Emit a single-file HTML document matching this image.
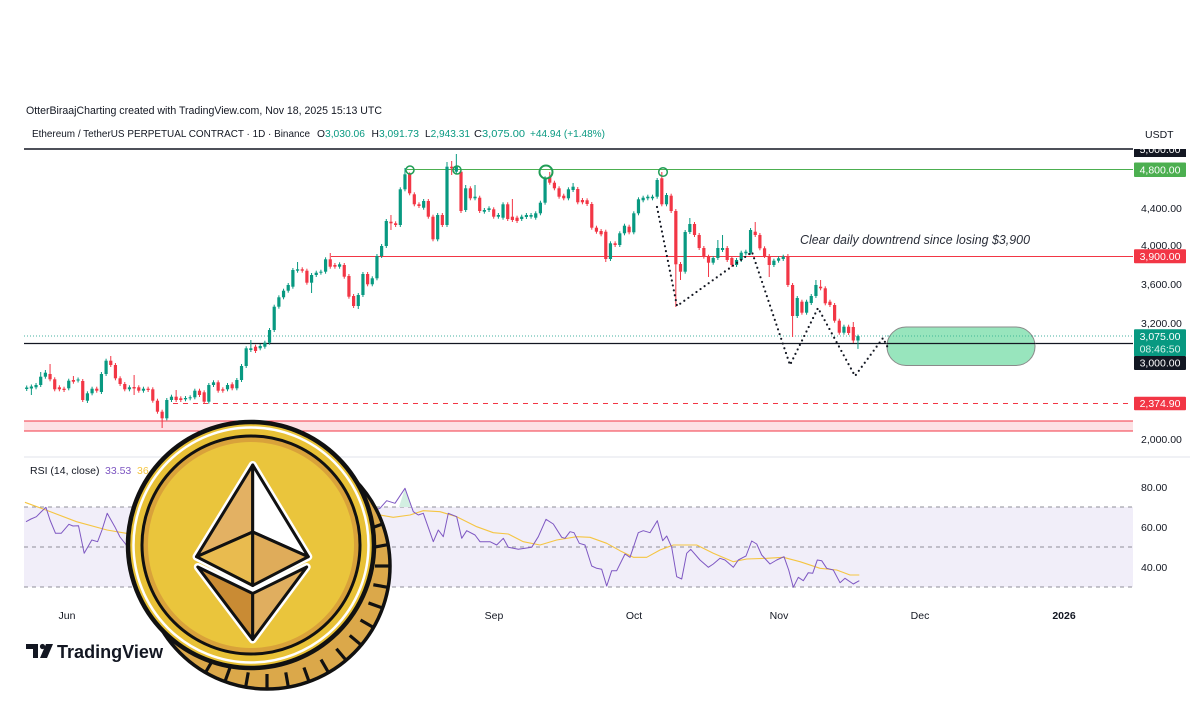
<!DOCTYPE html>
<html><head><meta charset="utf-8">
<style>
html,body{margin:0;padding:0;background:#fff;}
svg{display:block;font-family:"Liberation Sans",sans-serif;}
</style></head>
<body>
<svg id="s" width="1200" height="720" viewBox="0 0 1200 720" xmlns="http://www.w3.org/2000/svg">
<defs>
<clipPath id="mainclip"><rect x="24" y="149" width="1109" height="300"/></clipPath>
<clipPath id="rsiclip"><rect x="24" y="458" width="1109" height="142"/></clipPath>
<clipPath id="topclip"><rect x="1130" y="149" width="70" height="12"/></clipPath>
</defs>
<rect width="1200" height="720" fill="#fff"/>

<!-- header -->
<text x="26" y="114" font-size="11" fill="#131722" textLength="356" lengthAdjust="spacingAndGlyphs">OtterBiraajCharting created with TradingView.com, Nov 18, 2025 15:13 UTC</text>
<text x="32" y="137" font-size="10.5" fill="#131722" textLength="278" lengthAdjust="spacingAndGlyphs">Ethereum / TetherUS PERPETUAL CONTRACT · 1D · Binance</text>
<text x="317" y="137" font-size="10.5" fill="#131722" textLength="48" lengthAdjust="spacingAndGlyphs">O<tspan fill="#089981">3,030.06</tspan></text>
<text x="371.5" y="137" font-size="10.5" fill="#131722" textLength="47.5" lengthAdjust="spacingAndGlyphs">H<tspan fill="#089981">3,091.73</tspan></text>
<text x="425" y="137" font-size="10.5" fill="#131722" textLength="45" lengthAdjust="spacingAndGlyphs">L<tspan fill="#089981">2,943.31</tspan></text>
<text x="474" y="137" font-size="10.5" fill="#131722" textLength="51" lengthAdjust="spacingAndGlyphs">C<tspan fill="#089981">3,075.00</tspan></text>
<text x="530" y="137" font-size="10.5" fill="#089981" textLength="75" lengthAdjust="spacingAndGlyphs">+44.94 (+1.48%)</text>
<text x="1145" y="138" font-size="10.5" fill="#131722">USDT</text>

<!-- main pane horizontal objects -->
<rect x="24" y="421" width="1109" height="10" fill="#fde1e4"/>
<line x1="24" y1="421" x2="1133" y2="421" stroke="#f23645" stroke-width="1"/>
<line x1="24" y1="431" x2="1133" y2="431" stroke="#f23645" stroke-width="1"/>
<line x1="173" y1="403.5" x2="1133" y2="403.5" stroke="#f23645" stroke-width="1" stroke-dasharray="5 5"/>
<line x1="24" y1="149" x2="1133" y2="149" stroke="#131722" stroke-width="1.5"/>
<line x1="407" y1="169.5" x2="1133" y2="169.5" stroke="#4caf50" stroke-width="1"/>
<line x1="331" y1="256.5" x2="1133" y2="256.5" stroke="#f23645" stroke-width="1"/>
<line x1="24" y1="336" x2="1133" y2="336" stroke="#089981" stroke-width="1" stroke-dasharray="1 2" opacity="0.75"/>
<line x1="24" y1="343.5" x2="1133" y2="343.5" stroke="#131722" stroke-width="1.2"/>

<rect x="887" y="327" width="148" height="38.5" rx="19" ry="19" fill="#98e5bd" stroke="#8a8a8a" stroke-width="1"/>
<line x1="887" y1="336" x2="1035" y2="336" stroke="#089981" stroke-width="1" stroke-dasharray="1 2" opacity="0.6"/>
<line x1="887" y1="343.5" x2="1035" y2="343.5" stroke="#131722" stroke-width="1.2"/>

<g id="cd" clip-path="url(#mainclip)"></g>

<!-- circles -->
<g fill="none" stroke="#1f9d55">
<circle cx="410" cy="170" r="4" stroke-width="1.5"/>
<circle cx="457" cy="170" r="4" stroke-width="1.5"/>
<circle cx="546" cy="172" r="6.5" stroke-width="2"/>
<circle cx="663" cy="172" r="4.3" stroke-width="1.5"/>
</g>

<!-- dotted pattern -->
<path d="M657 207 L677 306 L752 252 L790 365 L818 308 L855 376 L883 338 L888 348" fill="none" stroke="#131722" stroke-width="2.2" stroke-linecap="round" stroke-dasharray="0 5"/>

<text x="800" y="244" font-size="13" font-style="italic" fill="#2a2e39" textLength="230" lengthAdjust="spacingAndGlyphs">Clear daily downtrend since losing $3,900</text>

<!-- price axis -->
<g font-size="10.5" fill="#131722">
<text x="1141" y="212">4,400.00</text>
<text x="1141" y="249">4,000.00</text>
<text x="1141" y="288">3,600.00</text>
<text x="1141" y="327">3,200.00</text>
<text x="1141" y="443">2,000.00</text>
</g>
<g clip-path="url(#topclip)">
<rect x="1134" y="141" width="52" height="16" fill="#131722"/>
<text x="1160" y="153" font-size="10.5" fill="#fff" text-anchor="middle">5,000.00</text>
</g>
<g font-size="10.5" fill="#fff" text-anchor="middle">
<rect x="1134" y="162.5" width="52" height="14.5" fill="#4caf50" rx="1"/>
<text x="1160" y="173.5">4,800.00</text>
<rect x="1134" y="249.3" width="52" height="14" fill="#f23645" rx="1"/>
<text x="1160" y="260">3,900.00</text>
<rect x="1134" y="329.3" width="52" height="27" fill="#089981" rx="1"/>
<text x="1160" y="340">3,075.00</text>
<text x="1160" y="352.5" fill="#d9f4ec">08:46:50</text>
<rect x="1134" y="356" width="52" height="14" fill="#131722" rx="1"/>
<text x="1160" y="366.5">3,000.00</text>
<rect x="1134" y="396.7" width="52" height="13.5" fill="#f23645" rx="1"/>
<text x="1160" y="407">2,374.90</text>
</g>

<!-- RSI pane -->
<line x1="24" y1="457" x2="1190" y2="457" stroke="#e0e3eb" stroke-width="1"/>
<rect x="24" y="507" width="1109" height="80" fill="#f1eef9"/>
<g stroke="#8f8f99" stroke-width="1" stroke-dasharray="4 4">
<line x1="24" y1="507" x2="1133" y2="507"/>
<line x1="24" y1="547" x2="1133" y2="547"/>
<line x1="24" y1="587" x2="1133" y2="587"/>
</g>
<polygon points="399,507 405,488.3 411,507" fill="#d3efe2"/>
<g id="rsi" clip-path="url(#rsiclip)"></g>
<text x="30" y="474" font-size="10.5" fill="#131722">RSI (14, close)</text>
<text x="105" y="474" font-size="10.5" fill="#7e57c2">33.53</text>
<text x="137" y="474" font-size="10.5" fill="#f5c542">36.05</text>
<g font-size="10.5" fill="#131722">
<text x="1141" y="491">80.00</text>
<text x="1141" y="531">60.00</text>
<text x="1141" y="571">40.00</text>
</g>

<!-- time axis -->
<g font-size="10.5" fill="#131722" text-anchor="middle">
<text x="67" y="619">Jun</text>
<text x="494" y="619">Sep</text>
<text x="634" y="619">Oct</text>
<text x="779" y="619">Nov</text>
<text x="920" y="619">Dec</text>
<text x="1064" y="619" font-weight="bold">2026</text>
</g>

<!-- TradingView logo -->
<g fill="#131722">
<path d="M26 644 H38 V658 H33 V649 H26 Z"/>
<circle cx="42.5" cy="646.5" r="2.6"/>
<path d="M46 644 H53 L47 658 H40 Z"/>
</g>
<text x="57" y="658" font-size="18.5" font-weight="bold" fill="#131722" textLength="106" lengthAdjust="spacingAndGlyphs">TradingView</text>

<!-- coin -->
<g id="coin">
<circle cx="267" cy="566" r="123" fill="#dba84a" stroke="#111" stroke-width="3.5"/>
<g id="ridges" stroke="#111" stroke-width="3.2"></g>
<circle cx="251" cy="545" r="123" fill="#e8c136" stroke="#111" stroke-width="4.5"/>
<circle cx="251" cy="545" r="117.5" fill="none" stroke="#fff" stroke-width="2.5"/>
<circle cx="251" cy="545" r="109" fill="#d9a23a" stroke="#111" stroke-width="3"/>
<circle cx="251" cy="545" r="103" fill="#eac53c"/>
<g stroke="#fff" stroke-width="8" stroke-linejoin="round" fill="none">
<polygon points="252.7,465 196.5,556.7 252.7,585.5 308.3,556.7"/>
<polygon points="197.8,567 252.7,593.5 306.7,567 252.7,639.5"/>
</g>
<g stroke="#111" stroke-width="3" stroke-linejoin="round">
<polygon points="252.7,465 196.5,556.7 252.7,532" fill="#e3b163"/>
<polygon points="252.7,465 252.7,532 308.3,556.7" fill="#ffffff"/>
<polygon points="196.5,556.7 252.7,532 252.7,585.5" fill="#e9bb4f"/>
<polygon points="252.7,532 308.3,556.7 252.7,585.5" fill="#dfac5a"/>
<polygon points="197.8,567 252.7,593.5 252.7,639.5" fill="#c98b34"/>
<polygon points="252.7,593.5 306.7,567 252.7,639.5" fill="#e0ae5f"/>
</g>
</g>
</svg>
<script>
(function(){
var NS="http://www.w3.org/2000/svg";
function el(tag,a,p){var e=document.createElementNS(NS,tag);for(var k in a)e.setAttribute(k,a[k]);p.appendChild(e);return e;}
var D=[[1,387.5,389],[1,386.5,388.5,0,395],[1,385,387.3],[1,376.7,385,372],[1,372.7,376.7,370],[0,374,379.3,364],[0,379.3,389.3],[0,387.3,389.3],[0,388.7,390],[1,380.7,388.3],
[0,380,381.7,376],[1,379.5,380.5],[0,381,400],[1,393.3,400.7,0,403],[1,388.7,393.3],[0,388.7,390.7],[1,374,392],[1,360.7,374],[0,360.7,365,356],[0,365,378.3],
[0,378.3,384],[0,384,389.3],[1,387.3,389.3],[0,387,388.5,375,395],[0,387.3,390.7],[1,388.7,390.7],[0,388.7,390],[0,389.3,400.7],[0,400.7,411.7],[0,411.7,418.3,0,428],
[1,400,418.3],[1,396.7,400],[0,396.7,400,390],[0,398.3,400],[1,398,399.3],[1,397.3,398.3],[1,390.7,397.3],[0,390.7,395],[0,392.3,401.7],[1,385,401.7],
[1,382.3,385],[0,382.3,390.7],[0,389.3,390.7],[1,385,389.3],[0,384.3,388.3],[1,380,388.3],[1,366,380],[1,348.3,366],[1,348.3,350,340],[0,346.7,351],
[1,346,348.3],[1,342.7,346.7],[1,330,342.7],[1,306.7,330],[1,297.3,306.7],[1,290.7,297.3],[1,285,290.7],[1,270,286.7],[1,269.3,270.7,262],[0,269.3,270.7],
[0,270.7,282.7],[1,275,282.7,0,293],[1,272.7,275],[1,271.7,272.7],[1,259.3,271.7],[0,259.3,266.7,253],[0,265,266.7],[1,264.3,266.7],[0,265,276.7],[0,276,296.7],
[0,296,306],[1,295,306,0,309],[1,274,295],[0,274,284.3],[1,278.3,284.3],[1,256,278.3],[1,246,256],[1,221,246],[0,221.7,223.3,215,230],[0,223.3,225],
[1,189.3,225],[1,174.3,189.3,168],[0,174.3,193.3],[0,194.3,204.3],[0,204.3,206],[1,201,207.7],[0,201,216.7],[0,216.7,239.3],[1,215,239.3],[0,215,225],
[1,166.7,225,162],[0,166.7,168.3,161,175],[1,166.7,171.7,154],[0,171.7,211],[1,188.3,210,185],[0,188.3,198.3],[1,196.7,198.3,185],[0,197.7,211],[1,210,211.7],[1,208.3,210],
[0,209.3,216.7],[1,215,216.7],[1,204.3,217.7],[0,204.3,219],[0,216.7,220,199],[0,217.7,221],[1,216.7,219],[1,215,217],[1,215,216.7],[1,213.3,217.7],
[1,202.7,213.3],[1,178.3,202.7],[0,176.7,182.7,172],[0,182.7,188.3],[0,188.3,196.7],[0,195.7,198.3],[1,189.3,198.3],[1,186.7,190,183],[0,189,202.3],[0,200,202.3],
[0,200.3,204],[0,204,227.7],[0,227.7,231.7],[0,231,234.3],[0,231.7,259,0,262],[1,243.3,259],[0,243.3,245],[1,233.3,245],[1,225.7,233.3],[0,226.7,232.3],
[1,213.3,232.3],[1,199.3,213.3],[1,197.7,200.3],[1,196.7,198.3],[1,196.7,198.3],[1,180,196.7],[0,178.3,204.3,172],[1,195,204.3],[0,195.7,211],[0,211,264.3,0,307],
[0,264,271.7,0,280],[1,232,271.7],[1,224,232,218],[0,224,235],[0,235,248],[0,248,256.7],[0,256.7,262.7,0,277],[1,258,262.7],[1,248,258,240],[1,248,250,235],
[0,248,260],[0,258,265],[1,260,265],[1,252.7,260],[1,251.7,253.3],[1,230,252.7],[0,231.7,235,222],[0,235,248.3],[0,248.3,256],[0,256,265,0,277],
[1,260.7,265],[1,258.3,260.7],[1,256.7,259],[0,256,285],[0,285,316,0,337],[1,298,316],[0,301.7,312.7],[1,301.7,312.7],[1,296,303],[1,285,296,280],
[0,286.7,288.3,280],[0,288.3,303.3],[0,301.7,305],[0,305,320.7],[0,320.7,332.7],[1,326.7,332.7],[0,326.7,333],[0,327,340.5,322,343],[1,336.1,340.5,334.6,348.9]];
var g=document.getElementById('cd');
for(var i=0;i<D.length;i++){var d=D[i];var x=26.7+4.67*i;var col=d[0]?'#089981':'#f23645';var t=d[1],b=d[2];
var wt=d[3]||t-2,wb=d[4]||b+2;
el('line',{x1:x,x2:x,y1:wt,y2:wb,stroke:col,'stroke-width':1},g);
el('rect',{x:x-1.6,y:t,width:3.2,height:Math.max(1,b-t),fill:col},g);}
var R=[[26,521.7],[31,519],[36.4,516.7],[41,512],[45.9,507.3],[50,520],[55.5,533.3],[61.2,533.3],[68.9,524.3],[73,526],[78.5,525.7],[84.2,553.3],[91.8,540],[97.6,541.7],[102,530],[107.2,513.3],[114.8,526.7],[120,537],[126.3,545],
[135,555],[145,565],[155,575],[162,580],[168,565],[175,560],[185,562],[195,555],[205,550],[215,540],[225,535],[240,520],[250,505],[260,495],[270,490],[280,485],[290,490],[300,495],[310,497],[320,500],[330,505],[340,525],[350,540],[355,545],[365,530],[375,510],
[380,508.3],[386.7,500.7],[395,503.3],[405,488.3],[413.3,511.7],[418.3,515],[423.3,513.3],[433.3,541.7],[438.3,530],[443.3,536.7],[448.3,513.3],[456.7,516.7],[461.7,538.3],[466.7,530.7],[475,535],[480,541.7],[490,541.7],[496.7,545],[503.3,538.3],[508.3,547.3],[518.3,549.3],[531.7,547.3],[538.3,536.7],[546,519.3],[553.3,524],[561.7,537.3],[565,538.3],[570,531.7],[574,532.7],[579.3,543.3],[585,545],[591.7,566],[596.7,568.3],[601.7,569.3],[606.7,586],[611.7,570.7],[616.7,570.7],[625,554],[630,557.3],[638.3,532.7],[643.3,530.7],[650,532.7],[657.3,520.7],[662.7,540.7],[666.7,536],[671.7,547.3],[676.7,576.7],[681.7,579],[686.7,553.3],[690.7,549.3],[700,560],[708.3,567.3],[713.3,564],[720,558.3],[725,560],[733.3,567.3],[738.3,560],[743.3,557.3],[746,556],[751.7,541],[756.7,544],[761.7,555],[770,564],[776.7,560],[784,556.7],[788.7,570],[793.3,587.3],[798.3,577.3],[803.3,580.7],[808.3,572.7],[812.7,573.3],[817.3,560],[821.7,560.7],[826.7,568.3],[833.3,570],[840,582.7],[845,578.3],[853.3,584],[859.3,580.7]];
var M=[[24.9,502.3],[45.9,510],[76.5,521.7],[107,530],[126.3,533.3],[150,545],[175,552],[200,548],[230,535],[260,515],[290,500],[320,495],[350,505],[380,515],[393.3,517.3],[410,515],[423.3,510.7],[440,511.7],[456.7,516.7],[476.7,526.7],[493.3,532.7],[508.3,534],[523.3,541.7],[540,545],[556.7,540],[576.7,536.7],[590,537.3],[606.7,543.3],[620,550.7],[633.3,557.3],[646.7,557.3],[660,550],[673.3,545],[696.7,545],[713.3,553.3],[733.3,561.7],[746.7,559],[766.7,558.3],[783.3,557.3],[800,561.7],[820,568.3],[836.7,570],[850,575],[859.3,575]];
function pts(a){return a.map(function(p){return p[0]+','+p[1];}).join(' ');}
var rg=document.getElementById('rsi');
el('polyline',{points:pts(M),fill:'none',stroke:'#f5c542','stroke-width':1.1,'stroke-linejoin':'round'},rg);
el('polyline',{points:pts(R),fill:'none',stroke:'#7e57c2','stroke-width':1,'stroke-linejoin':'round'},rg);
var rd=document.getElementById('ridges');
for(var a=-20;a<=125;a+=10){var r=a*Math.PI/180;var cx=267,cy=566;
el('line',{x1:cx+108*Math.cos(r),y1:cy+108*Math.sin(r),x2:cx+124*Math.cos(r),y2:cy+124*Math.sin(r)},rd);}
})();
</script>
</body></html>
